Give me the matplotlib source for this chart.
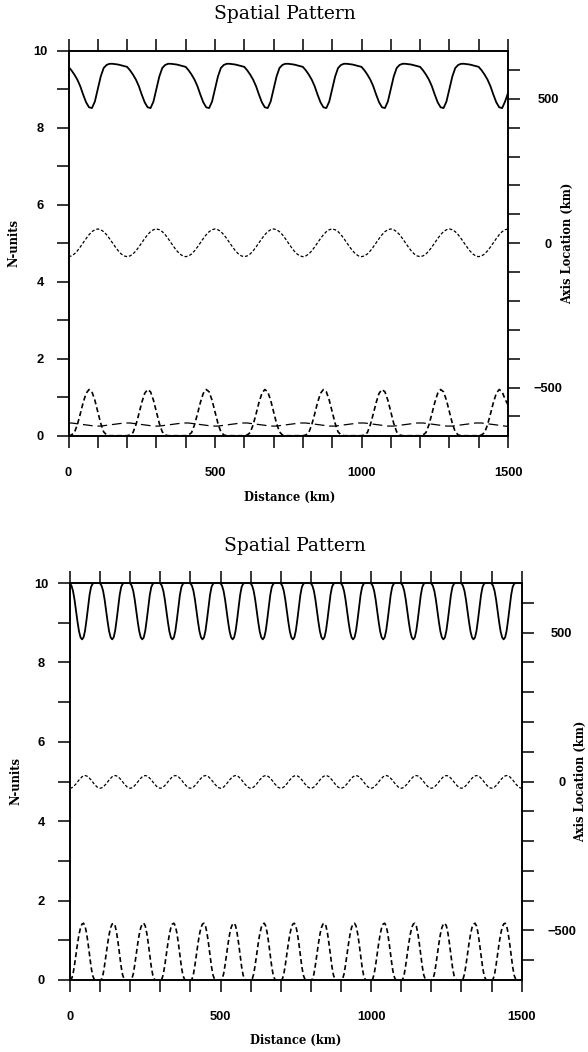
import numpy as np
import matplotlib
matplotlib.use("Agg")
import matplotlib.pyplot as plt

plt.rcParams['lines.scale_dashes'] = False

# ---------------- data ----------------
distance_top = np.arange(0, 1501, 10)      # km, sampling of top panel curves
distance_bot = np.arange(0, 1501, 5)       # km, sampling of bottom panel curves

top_solid = [
    9.58, 9.49, 9.38, 9.25, 9.08, 8.86, 8.66, 8.53, 8.51, 8.68, 9.00, 9.33, 9.55, 9.63, 9.66, 9.66, 9.65, 9.64, 9.62, 9.60,
    9.58, 9.49, 9.38, 9.25, 9.08, 8.86, 8.66, 8.53, 8.51, 8.68, 9.00, 9.33, 9.55, 9.63, 9.66, 9.66, 9.65, 9.64, 9.62, 9.60,
    9.58, 9.49, 9.38, 9.25, 9.08, 8.86, 8.66, 8.53, 8.51, 8.68, 9.00, 9.33, 9.55, 9.63, 9.66, 9.66, 9.65, 9.64, 9.62, 9.60,
    9.58, 9.49, 9.38, 9.25, 9.08, 8.86, 8.66, 8.53, 8.51, 8.68, 9.00, 9.33, 9.55, 9.63, 9.66, 9.66, 9.65, 9.64, 9.62, 9.60,
    9.58, 9.49, 9.38, 9.25, 9.08, 8.86, 8.66, 8.53, 8.51, 8.68, 9.00, 9.33, 9.55, 9.63, 9.66, 9.66, 9.65, 9.64, 9.62, 9.60,
    9.58, 9.49, 9.38, 9.25, 9.08, 8.86, 8.66, 8.53, 8.51, 8.68, 9.00, 9.33, 9.55, 9.63, 9.66, 9.66, 9.65, 9.64, 9.62, 9.60,
    9.58, 9.49, 9.38, 9.25, 9.08, 8.86, 8.66, 8.53, 8.51, 8.68, 9.00, 9.33, 9.55, 9.63, 9.66, 9.66, 9.65, 9.64, 9.62, 9.60,
    9.58, 9.49, 9.38, 9.25, 9.08, 8.86, 8.66, 8.53, 8.51, 8.68, 8.90,
]
top_axis = [
    4.65, 4.67, 4.72, 4.80, 4.90, 5.01, 5.12, 5.22, 5.30, 5.35, 5.37, 5.35, 5.30, 5.22, 5.12, 5.01, 4.90, 4.80, 4.72, 4.67,
    4.65, 4.67, 4.72, 4.80, 4.90, 5.01, 5.12, 5.22, 5.30, 5.35, 5.37, 5.35, 5.30, 5.22, 5.12, 5.01, 4.90, 4.80, 4.72, 4.67,
    4.65, 4.67, 4.72, 4.80, 4.90, 5.01, 5.12, 5.22, 5.30, 5.35, 5.37, 5.35, 5.30, 5.22, 5.12, 5.01, 4.90, 4.80, 4.72, 4.67,
    4.65, 4.67, 4.72, 4.80, 4.90, 5.01, 5.12, 5.22, 5.30, 5.35, 5.37, 5.35, 5.30, 5.22, 5.12, 5.01, 4.90, 4.80, 4.72, 4.67,
    4.65, 4.67, 4.72, 4.80, 4.90, 5.01, 5.12, 5.22, 5.30, 5.35, 5.37, 5.35, 5.30, 5.22, 5.12, 5.01, 4.90, 4.80, 4.72, 4.67,
    4.65, 4.67, 4.72, 4.80, 4.90, 5.01, 5.12, 5.22, 5.30, 5.35, 5.37, 5.35, 5.30, 5.22, 5.12, 5.01, 4.90, 4.80, 4.72, 4.67,
    4.65, 4.67, 4.72, 4.80, 4.90, 5.01, 5.12, 5.22, 5.30, 5.35, 5.37, 5.35, 5.30, 5.22, 5.12, 5.01, 4.90, 4.80, 4.72, 4.67,
    4.65, 4.67, 4.72, 4.80, 4.90, 5.01, 5.12, 5.22, 5.30, 5.35, 5.37,
]
top_bump = [
    0.00, 0.02, 0.08, 0.28, 0.56, 0.86, 1.10, 1.20, 1.14, 0.92, 0.62, 0.32, 0.10, 0.02, 0.00, 0.00, 0.00, 0.00, 0.00, 0.00,
    0.00, 0.02, 0.08, 0.28, 0.56, 0.86, 1.10, 1.20, 1.14, 0.92, 0.62, 0.32, 0.10, 0.02, 0.00, 0.00, 0.00, 0.00, 0.00, 0.00,
    0.00, 0.02, 0.08, 0.28, 0.56, 0.86, 1.10, 1.20, 1.14, 0.92, 0.62, 0.32, 0.10, 0.02, 0.00, 0.00, 0.00, 0.00, 0.00, 0.00,
    0.00, 0.02, 0.08, 0.28, 0.56, 0.86, 1.10, 1.20, 1.14, 0.92, 0.62, 0.32, 0.10, 0.02, 0.00, 0.00, 0.00, 0.00, 0.00, 0.00,
    0.00, 0.02, 0.08, 0.28, 0.56, 0.86, 1.10, 1.20, 1.14, 0.92, 0.62, 0.32, 0.10, 0.02, 0.00, 0.00, 0.00, 0.00, 0.00, 0.00,
    0.00, 0.02, 0.08, 0.28, 0.56, 0.86, 1.10, 1.20, 1.14, 0.92, 0.62, 0.32, 0.10, 0.02, 0.00, 0.00, 0.00, 0.00, 0.00, 0.00,
    0.00, 0.02, 0.08, 0.28, 0.56, 0.86, 1.10, 1.20, 1.14, 0.92, 0.62, 0.32, 0.10, 0.02, 0.00, 0.00, 0.00, 0.00, 0.00, 0.00,
    0.00, 0.02, 0.08, 0.28, 0.56, 0.86, 1.10, 1.20, 1.14, 0.95, 0.80,
]
top_low = [
    0.33, 0.33, 0.32, 0.31, 0.30, 0.29, 0.28, 0.27, 0.26, 0.25, 0.25, 0.25, 0.26, 0.27, 0.28, 0.29, 0.30, 0.31, 0.32, 0.33,
    0.33, 0.33, 0.32, 0.31, 0.30, 0.29, 0.28, 0.27, 0.26, 0.25, 0.25, 0.25, 0.26, 0.27, 0.28, 0.29, 0.30, 0.31, 0.32, 0.33,
    0.33, 0.33, 0.32, 0.31, 0.30, 0.29, 0.28, 0.27, 0.26, 0.25, 0.25, 0.25, 0.26, 0.27, 0.28, 0.29, 0.30, 0.31, 0.32, 0.33,
    0.33, 0.33, 0.32, 0.31, 0.30, 0.29, 0.28, 0.27, 0.26, 0.25, 0.25, 0.25, 0.26, 0.27, 0.28, 0.29, 0.30, 0.31, 0.32, 0.33,
    0.33, 0.33, 0.32, 0.31, 0.30, 0.29, 0.28, 0.27, 0.26, 0.25, 0.25, 0.25, 0.26, 0.27, 0.28, 0.29, 0.30, 0.31, 0.32, 0.33,
    0.33, 0.33, 0.32, 0.31, 0.30, 0.29, 0.28, 0.27, 0.26, 0.25, 0.25, 0.25, 0.26, 0.27, 0.28, 0.29, 0.30, 0.31, 0.32, 0.33,
    0.33, 0.33, 0.32, 0.31, 0.30, 0.29, 0.28, 0.27, 0.26, 0.25, 0.25, 0.25, 0.26, 0.27, 0.28, 0.29, 0.30, 0.31, 0.32, 0.33,
    0.33, 0.33, 0.32, 0.31, 0.30, 0.29, 0.28, 0.27, 0.26, 0.25, 0.24,
]

bot_solid = [
    9.99, 9.93, 9.80, 9.58, 9.30, 9.02, 8.78, 8.63, 8.58, 8.63, 8.80, 9.08, 9.40, 9.70, 9.90, 9.98, 10.0, 10.0, 10.0, 10.0,
    9.99, 9.93, 9.80, 9.58, 9.30, 9.02, 8.78, 8.63, 8.58, 8.63, 8.80, 9.08, 9.40, 9.70, 9.90, 9.98, 10.0, 10.0, 10.0, 10.0,
    9.99, 9.93, 9.80, 9.58, 9.30, 9.02, 8.78, 8.63, 8.58, 8.63, 8.80, 9.08, 9.40, 9.70, 9.90, 9.98, 10.0, 10.0, 10.0, 10.0,
    9.99, 9.93, 9.80, 9.58, 9.30, 9.02, 8.78, 8.63, 8.58, 8.63, 8.80, 9.08, 9.40, 9.70, 9.90, 9.98, 10.0, 10.0, 10.0, 10.0,
    9.99, 9.93, 9.80, 9.58, 9.30, 9.02, 8.78, 8.63, 8.58, 8.63, 8.80, 9.08, 9.40, 9.70, 9.90, 9.98, 10.0, 10.0, 10.0, 10.0,
    9.99, 9.93, 9.80, 9.58, 9.30, 9.02, 8.78, 8.63, 8.58, 8.63, 8.80, 9.08, 9.40, 9.70, 9.90, 9.98, 10.0, 10.0, 10.0, 10.0,
    9.99, 9.93, 9.80, 9.58, 9.30, 9.02, 8.78, 8.63, 8.58, 8.63, 8.80, 9.08, 9.40, 9.70, 9.90, 9.98, 10.0, 10.0, 10.0, 10.0,
    9.99, 9.93, 9.80, 9.58, 9.30, 9.02, 8.78, 8.63, 8.58, 8.63, 8.80, 9.08, 9.40, 9.70, 9.90, 9.98, 10.0, 10.0, 10.0, 10.0,
    9.99, 9.93, 9.80, 9.58, 9.30, 9.02, 8.78, 8.63, 8.58, 8.63, 8.80, 9.08, 9.40, 9.70, 9.90, 9.98, 10.0, 10.0, 10.0, 10.0,
    9.99, 9.93, 9.80, 9.58, 9.30, 9.02, 8.78, 8.63, 8.58, 8.63, 8.80, 9.08, 9.40, 9.70, 9.90, 9.98, 10.0, 10.0, 10.0, 10.0,
    9.99, 9.93, 9.80, 9.58, 9.30, 9.02, 8.78, 8.63, 8.58, 8.63, 8.80, 9.08, 9.40, 9.70, 9.90, 9.98, 10.0, 10.0, 10.0, 10.0,
    9.99, 9.93, 9.80, 9.58, 9.30, 9.02, 8.78, 8.63, 8.58, 8.63, 8.80, 9.08, 9.40, 9.70, 9.90, 9.98, 10.0, 10.0, 10.0, 10.0,
    9.99, 9.93, 9.80, 9.58, 9.30, 9.02, 8.78, 8.63, 8.58, 8.63, 8.80, 9.08, 9.40, 9.70, 9.90, 9.98, 10.0, 10.0, 10.0, 10.0,
    9.99, 9.93, 9.80, 9.58, 9.30, 9.02, 8.78, 8.63, 8.58, 8.63, 8.80, 9.08, 9.40, 9.70, 9.90, 9.98, 10.0, 10.0, 10.0, 10.0,
    9.99, 9.93, 9.80, 9.58, 9.30, 9.02, 8.78, 8.63, 8.58, 8.63, 8.80, 9.08, 9.40, 9.70, 9.90, 9.98, 10.0, 10.0, 10.0, 10.0,
    9.99,
]
bot_axis = [
    4.83, 4.84, 4.86, 4.90, 4.94, 4.99, 5.04, 5.08, 5.12, 5.14, 5.15, 5.14, 5.12, 5.08, 5.04, 4.99, 4.94, 4.90, 4.86, 4.84,
    4.83, 4.84, 4.86, 4.90, 4.94, 4.99, 5.04, 5.08, 5.12, 5.14, 5.15, 5.14, 5.12, 5.08, 5.04, 4.99, 4.94, 4.90, 4.86, 4.84,
    4.83, 4.84, 4.86, 4.90, 4.94, 4.99, 5.04, 5.08, 5.12, 5.14, 5.15, 5.14, 5.12, 5.08, 5.04, 4.99, 4.94, 4.90, 4.86, 4.84,
    4.83, 4.84, 4.86, 4.90, 4.94, 4.99, 5.04, 5.08, 5.12, 5.14, 5.15, 5.14, 5.12, 5.08, 5.04, 4.99, 4.94, 4.90, 4.86, 4.84,
    4.83, 4.84, 4.86, 4.90, 4.94, 4.99, 5.04, 5.08, 5.12, 5.14, 5.15, 5.14, 5.12, 5.08, 5.04, 4.99, 4.94, 4.90, 4.86, 4.84,
    4.83, 4.84, 4.86, 4.90, 4.94, 4.99, 5.04, 5.08, 5.12, 5.14, 5.15, 5.14, 5.12, 5.08, 5.04, 4.99, 4.94, 4.90, 4.86, 4.84,
    4.83, 4.84, 4.86, 4.90, 4.94, 4.99, 5.04, 5.08, 5.12, 5.14, 5.15, 5.14, 5.12, 5.08, 5.04, 4.99, 4.94, 4.90, 4.86, 4.84,
    4.83, 4.84, 4.86, 4.90, 4.94, 4.99, 5.04, 5.08, 5.12, 5.14, 5.15, 5.14, 5.12, 5.08, 5.04, 4.99, 4.94, 4.90, 4.86, 4.84,
    4.83, 4.84, 4.86, 4.90, 4.94, 4.99, 5.04, 5.08, 5.12, 5.14, 5.15, 5.14, 5.12, 5.08, 5.04, 4.99, 4.94, 4.90, 4.86, 4.84,
    4.83, 4.84, 4.86, 4.90, 4.94, 4.99, 5.04, 5.08, 5.12, 5.14, 5.15, 5.14, 5.12, 5.08, 5.04, 4.99, 4.94, 4.90, 4.86, 4.84,
    4.83, 4.84, 4.86, 4.90, 4.94, 4.99, 5.04, 5.08, 5.12, 5.14, 5.15, 5.14, 5.12, 5.08, 5.04, 4.99, 4.94, 4.90, 4.86, 4.84,
    4.83, 4.84, 4.86, 4.90, 4.94, 4.99, 5.04, 5.08, 5.12, 5.14, 5.15, 5.14, 5.12, 5.08, 5.04, 4.99, 4.94, 4.90, 4.86, 4.84,
    4.83, 4.84, 4.86, 4.90, 4.94, 4.99, 5.04, 5.08, 5.12, 5.14, 5.15, 5.14, 5.12, 5.08, 5.04, 4.99, 4.94, 4.90, 4.86, 4.84,
    4.83, 4.84, 4.86, 4.90, 4.94, 4.99, 5.04, 5.08, 5.12, 5.14, 5.15, 5.14, 5.12, 5.08, 5.04, 4.99, 4.94, 4.90, 4.86, 4.84,
    4.83, 4.84, 4.86, 4.90, 4.94, 4.99, 5.04, 5.08, 5.12, 5.14, 5.15, 5.14, 5.12, 5.08, 5.04, 4.99, 4.94, 4.90, 4.86, 4.84,
    4.83,
]
bot_bump = [
    0.00, 0.02, 0.15, 0.38, 0.65, 0.92, 1.15, 1.32, 1.41, 1.43, 1.36, 1.18, 0.92, 0.62, 0.33, 0.12, 0.02, 0.00, 0.00, 0.00,
    0.00, 0.02, 0.15, 0.38, 0.65, 0.92, 1.15, 1.32, 1.41, 1.43, 1.36, 1.18, 0.92, 0.62, 0.33, 0.12, 0.02, 0.00, 0.00, 0.00,
    0.00, 0.02, 0.15, 0.38, 0.65, 0.92, 1.15, 1.32, 1.41, 1.43, 1.36, 1.18, 0.92, 0.62, 0.33, 0.12, 0.02, 0.00, 0.00, 0.00,
    0.00, 0.02, 0.15, 0.38, 0.65, 0.92, 1.15, 1.32, 1.41, 1.43, 1.36, 1.18, 0.92, 0.62, 0.33, 0.12, 0.02, 0.00, 0.00, 0.00,
    0.00, 0.02, 0.15, 0.38, 0.65, 0.92, 1.15, 1.32, 1.41, 1.43, 1.36, 1.18, 0.92, 0.62, 0.33, 0.12, 0.02, 0.00, 0.00, 0.00,
    0.00, 0.02, 0.15, 0.38, 0.65, 0.92, 1.15, 1.32, 1.41, 1.43, 1.36, 1.18, 0.92, 0.62, 0.33, 0.12, 0.02, 0.00, 0.00, 0.00,
    0.00, 0.02, 0.15, 0.38, 0.65, 0.92, 1.15, 1.32, 1.41, 1.43, 1.36, 1.18, 0.92, 0.62, 0.33, 0.12, 0.02, 0.00, 0.00, 0.00,
    0.00, 0.02, 0.15, 0.38, 0.65, 0.92, 1.15, 1.32, 1.41, 1.43, 1.36, 1.18, 0.92, 0.62, 0.33, 0.12, 0.02, 0.00, 0.00, 0.00,
    0.00, 0.02, 0.15, 0.38, 0.65, 0.92, 1.15, 1.32, 1.41, 1.43, 1.36, 1.18, 0.92, 0.62, 0.33, 0.12, 0.02, 0.00, 0.00, 0.00,
    0.00, 0.02, 0.15, 0.38, 0.65, 0.92, 1.15, 1.32, 1.41, 1.43, 1.36, 1.18, 0.92, 0.62, 0.33, 0.12, 0.02, 0.00, 0.00, 0.00,
    0.00, 0.02, 0.15, 0.38, 0.65, 0.92, 1.15, 1.32, 1.41, 1.43, 1.36, 1.18, 0.92, 0.62, 0.33, 0.12, 0.02, 0.00, 0.00, 0.00,
    0.00, 0.02, 0.15, 0.38, 0.65, 0.92, 1.15, 1.32, 1.41, 1.43, 1.36, 1.18, 0.92, 0.62, 0.33, 0.12, 0.02, 0.00, 0.00, 0.00,
    0.00, 0.02, 0.15, 0.38, 0.65, 0.92, 1.15, 1.32, 1.41, 1.43, 1.36, 1.18, 0.92, 0.62, 0.33, 0.12, 0.02, 0.00, 0.00, 0.00,
    0.00, 0.02, 0.15, 0.38, 0.65, 0.92, 1.15, 1.32, 1.41, 1.43, 1.36, 1.18, 0.92, 0.62, 0.33, 0.12, 0.02, 0.00, 0.00, 0.00,
    0.00, 0.02, 0.15, 0.38, 0.65, 0.92, 1.15, 1.32, 1.41, 1.43, 1.36, 1.18, 0.92, 0.62, 0.33, 0.12, 0.02, 0.00, 0.00, 0.00,
    0.00,
]

x_ticks = [0, 100, 200, 300, 400, 500, 600, 700, 800, 900, 1000, 1100, 1200, 1300, 1400, 1500]
x_ticklabels = ['0', '', '', '', '', '500', '', '', '', '', '1000', '', '', '', '', '1500']
y_ticks = [0, 1, 2, 3, 4, 5, 6, 7, 8, 9, 10]
y_ticklabels = ['0', '', '2', '', '4', '', '6', '', '8', '', '10']
r_ticks = [-600, -500, -400, -300, -200, -100, 0, 100, 200, 300, 400, 500, 600]
r_ticklabels = ['', '\u2212500', '', '', '', '', '0', '', '', '', '', '500', '']
r_range = (-667, 667)

title_text = 'Spatial Pattern'
xlabel_text = 'Distance (km)'
ylabel_text = 'N-units'
rlabel_text = 'Axis Location (km)'

# ---------------- figure ----------------
W, H = 588, 1052
fig = plt.figure(figsize=(W / 100, H / 100), dpi=100)


def rect(l, t, r, b):
    return [l / W, 1 - b / H, (r - l) / W, (b - t) / H]


TICK_FONT = dict(family='Liberation Sans', weight='bold', size=9.3)
LABEL_FONT = dict(family='DejaVu Serif', weight='bold', size=8.3)
TL = 8.3
TW = 1.1
SW = 1.2


def style(ax):
    ax.set_xlim(0, 1500)
    ax.set_ylim(0, 10)
    ax.set_xticks(x_ticks)
    ax.set_xticklabels(x_ticklabels, **TICK_FONT)
    ax.set_yticks(y_ticks)
    ax.set_yticklabels(y_ticklabels, ha='center', **TICK_FONT)
    ax.tick_params(axis='both', direction='out', length=TL, width=TW)
    ax.tick_params(axis='x', top=True, pad=14.2)
    ax.tick_params(axis='y', pad=12.2)
    for s in ax.spines.values():
        s.set_linewidth(SW)
    axr = ax.twinx()
    axr.set_ylim(*r_range)
    axr.set_yticks(r_ticks)
    axr.set_yticklabels(r_ticklabels, ha='center', **TICK_FONT)
    axr.tick_params(axis='y', direction='out', length=TL, width=TW, pad=20.5)
    for s in axr.spines.values():
        s.set_linewidth(SW)
    return axr


def px(x, y):
    return x / W, 1 - y / H


# top panel
ax1 = fig.add_axes(rect(68.5, 50.7, 508, 435.7))
ax1.plot(distance_top, top_solid, color='black', lw=1.3, solid_capstyle='butt')
ax1.plot(distance_top, top_axis, color='black', lw=0.9, dashes=(2.2, 1.4))
ax1.plot(distance_top, top_bump, color='black', lw=1.2, dashes=(3.6, 2.2))
ax1.plot(distance_top, top_low, color='black', lw=0.9, dashes=(7.0, 3.5))
style(ax1)

# bottom panel
ax2 = fig.add_axes(rect(70, 583, 521.7, 980))
ax2.plot(distance_bot, bot_solid, color='black', lw=1.3)
ax2.plot(distance_bot, bot_axis, color='black', lw=0.9, dashes=(2.2, 1.4))
ax2.plot(distance_bot, bot_bump, color='black', lw=1.2, dashes=(3.6, 2.2))
style(ax2)

# titles and axis labels
fig.text(*px(285, 14), title_text, ha='center', va='center',
         family='DejaVu Serif', size=13.5)
fig.text(*px(295, 546), title_text, ha='center', va='center',
         family='DejaVu Serif', size=13.5)

fig.text(*px(290, 497), xlabel_text, ha='center', va='center', **LABEL_FONT)
fig.text(*px(296, 1040), xlabel_text, ha='center', va='center', **LABEL_FONT)

fig.text(*px(14, 243), ylabel_text, ha='center', va='center', rotation=90, **LABEL_FONT)
fig.text(*px(16, 781), ylabel_text, ha='center', va='center', rotation=90, **LABEL_FONT)

fig.text(*px(568, 243), rlabel_text, ha='center', va='center', rotation=90, **LABEL_FONT)
fig.text(*px(581, 781), rlabel_text, ha='center', va='center', rotation=90, **LABEL_FONT)

fig.savefig('out.png', dpi=100)
